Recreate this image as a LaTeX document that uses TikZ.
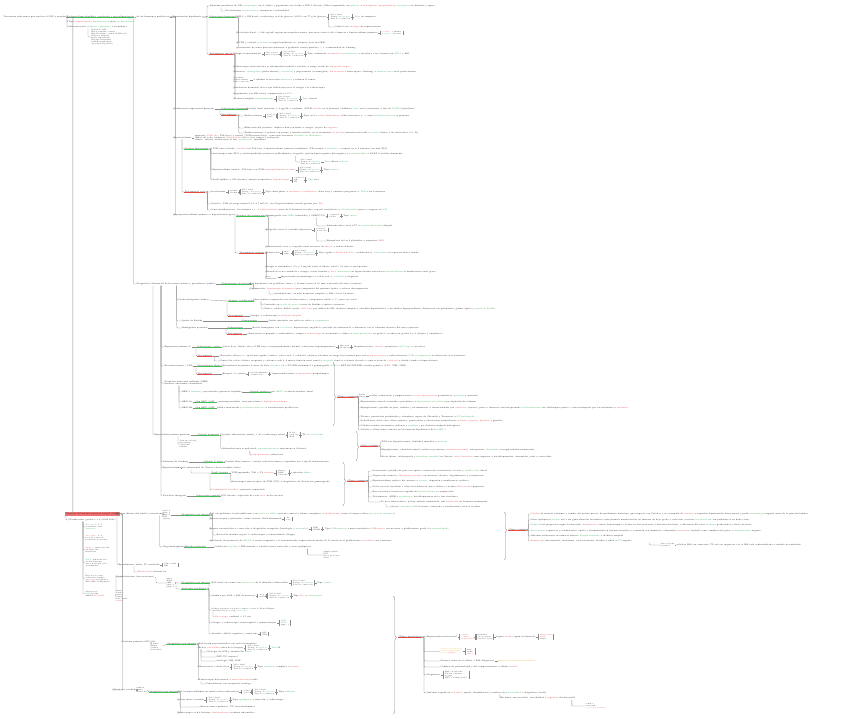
\documentclass[tikz,border=0pt]{standalone}
\usepackage{fontspec}
\newfontfamily\symfont{DejaVu Sans}
\usetikzlibrary{positioning,decorations.pathreplacing}

\definecolor{lncol}{HTML}{8A8A8A}
\definecolor{hgrn}{HTML}{3CC453}
\definecolor{hred}{HTML}{E8473F}
\definecolor{boxred}{HTML}{F07070}
\definecolor{cred}{HTML}{E53935}
\definecolor{cgrn}{HTML}{2FA84F}
\definecolor{cylw}{HTML}{E6AE1E}

\newcommand{\tred}[1]{\textcolor{cred}{#1}}
\newcommand{\tgrn}[1]{\textcolor{cgrn}{#1}}
\newcommand{\tylw}[1]{\textcolor{cylw}{#1}}
\newcommand{\tto}{{\symfont →}}
\newcommand{\tge}{{\symfont ≥}}
\newcommand{\tle}{{\symfont ≤}}

\tikzset{
  txt/.style={font=\fontsize{2.0}{2.4}\selectfont, anchor=west, inner sep=0.4pt, text=black!92},
  stk/.style={txt, font=\fontsize{1.7}{2.0}\selectfont, align=left},
  gh/.style={txt, fill=white, path picture={\fill[hgrn] (path picture bounding box.south west) rectangle ([yshift=1.5pt]path picture bounding box.south east);}},
  rh/.style={txt, fill=white, path picture={\fill[hred] (path picture bounding box.south west) rectangle ([yshift=1.5pt]path picture bounding box.south east);}},
  rbox/.style={txt, fill=boxred, inner sep=0.9pt},
  ln/.style={draw=lncol, line width=0.3pt, rounded corners=0.8pt},
  brc/.style={draw=lncol, line width=0.35pt, decorate},
}

% sub-lista con corchete
\newcommand{\stack}[3]{%
  \node[stk, right=3.5pt of #2] (#1) {#3};
  \draw[ln] (#2.east) -- ([xshift=-1.5pt]#1.west);
  \draw[ln] ([xshift=-1.5pt]#1.north west) -- ([xshift=-1.5pt]#1.south west);
  \draw[ln] ([xshift=1pt]#1.north east) -- ([xshift=1pt]#1.south east);}
\newcommand{\cont}[3]{%
  \node[txt, right=3pt of #2] (#1) {#3};
  \draw[ln] (#2.east) -- (#1.west);}
\newcommand{\trio}[3]{%
  \stack{#1}{#2}{Valor basal\\Tiempo de \tgrn{latencia}\\Tasa de conducción}%
  \cont{#1x}{#1}{#3}}

\begin{document}
\begin{tikzpicture}[x=1bp, y=-1bp]
\useasboundingbox (0,0) rectangle (848,719);

% ---------- raíz y eje
\node[txt] (root) at (3,17) {Trastornos endocrinos que afectan al SNC y neoplasias};
\node[gh] (eje) at (66,17) {Eje hipotálamo-hipófisis: regulación y retroalimentación};
\node[txt] (ejeb) at (136,17) {de las hormonas periféricas};
\draw[ln] (root.east) -- (eje.west);
\draw[ln] (eje.east) -- (ejeb.west);
\node[txt] (tipo) at (68,22) {Tipo: \tred{hiperfunción}, \tgrn{hipofunción} o masa \tgrn{no funcionante}};
\node[txt] (dif) at (68,27) {Diferenciación: \tgrn{primaria (glándula)} o secundaria};
\node[stk] (difl) at (91,37) {Déficit de GH\\Hipogonadismo central\\Hipotiroidismo central (TSH baja)\\Diabetes insípida\\Insuf. suprarrenal\\Hiperprolactinemia\\Panhipopituitarismo\\Apoplejía hipofisaria};
\draw[ln] ([xshift=1pt]eje.south west) |- (tipo.west);
\draw[ln] ([xshift=1pt]eje.south west) |- (dif.west);
\draw[ln] ([xshift=20pt]dif.south west) |- (difl.west);

% ---------- hiperfunción
\node[txt] (hiper) at (172,17) {Hiperfunción hipofisaria};
\draw[ln] (ejeb.east) -- (hiper.west);
\node[txt] (acro) at (209,6) {Adenoma productor de GH: \tgrn{acromegalia} en el adulto y gigantismo en el niño \tto{} IGF-1 elevado, GH no suprimible con \tgrn{glucosa} \tto{} \tred{macroglosia, prognatismo} y \tgrn{artropatía} con diabetes y apnea};
\node[txt] (prl) at (225,11) {Prolactinoma \tto{} \tgrn{galactorrea}, amenorrea e infertilidad};
\draw[ln] ([xshift=12pt]acro.south west) |- (prl.west);
\node[gh] (ghA) at (209,17) {Laboratorio hormonal};
\node[rh] (rhA) at (209,54) {Tratamiento inicial};
\draw[ln] (hiper.east) -- ++(5,0) |- (acro.west);
\draw[ln] (hiper.east) -- ++(5,0) |- (ghA.west);
\draw[ln] (hiper.east) -- ++(5,0) |- (rhA.west);

\node[txt] (la1) at (236,17) {IGF-1 y GH basal \tto{} sobrecarga oral de glucosa (SOG) con 75 g de glucosa};
\trio{la1t}{la1}{\tgrn{Tipo} de respuesta};
\node[txt] (la2) at (334,27) {Control con \tred{análogos} de somatostatina};
\draw[ln] ([xshift=2pt]la1.south east) |- (la2.west);
\node[txt] (la3) at (236,33) {Prolactina basal: > 200 ng/mL sugiere macroprolactinoma; descartar efecto tallo, fármacos e hipotiroidismo primario};
\stack{la3s}{la3}{\tred{positivo}: confirma\\\tgrn{negativo}: descarta};
\node[txt] (la4) at (236,43) {ACTH y cortisol \tgrn{nocturno} \tto{} origen hipofisario vs. ectópico (test de CRH)};
\node[txt] (la5) at (236,48) {Cateterismo de senos petrosos inferiores \tto{} gradiente centro/periferia \tred{> 2} \tto{} enfermedad de Cushing};
\foreach \n in {la1,la3,la4,la5} \draw[ln] (ghA.east) -- ++(2,0) |- (\n.west);

\node[txt] (ta1) at (233,54) {Cirugía transesfenoidal};
\stack{ta1s}{ta1}{endoscópica\\microscópica};
\trio{ta1t}{ta1s}{Tipo combinado \tto{} \tred{remisión} o \tgrn{persistencia} \tto{} reevaluar a los 3 meses con \tgrn{IGF-1} y RM};
\node[txt] (ta2) at (233,67) {Radioterapia estereotáctica si enfermedad residual o recidiva \tto{} riesgo tardío de \tred{hipopituitarismo}};
\node[txt] (ta3) at (233,72) {Fármacos: \tgrn{cabergolina} (prolactinoma), \tgrn{octreótido} y pegvisomant (acromegalia), \tred{ketoconazol} o metirapona (Cushing) \tto{} \tgrn{primera línea} en el prolactinoma};
\node[stk] (ta4) at (233,80) {Dopamina\\Somatostatina\\Glucocorticoide};
\cont{ta4b}{ta4}{\tto{} inhiben la secreción \tgrn{hormonal} y reducen el tumor};
\node[txt] (ta5) at (233,88) {Sustitución hormonal de los ejes deficitarios tras la cirugía o la radioterapia};
\node[txt] (ta6) at (233,94) {Seguimiento con RM anual, campimetría y \tgrn{IGF-1}};
\node[txt] (ta7) at (233,99) {Diabetes insípida \tto{} \tgrn{desmopresina}};
\trio{ta7t}{ta7}{\tgrn{Tipo} central};
\foreach \n in {ta1,ta2,ta3,ta4,ta5,ta6,ta7} \draw[ln] (rhA.east) -- ++(2,0) |- (\n.west);

% ---------- suprarrenal
\node[txt] (supra) at (173,109) {Insuficiencia suprarrenal primaria};
\node[gh] (ghB) at (221,109) {Laboratorio hormonal};
\node[txt] (sb0) at (246,109) {Cortisol basal matutino < 3 µg/dL \tto{} confirma; ACTH \tred{elevada} en la primaria (Addison), \tgrn{baja} en la secundaria \tto{} test de \tgrn{ACTH} (Synacthen)};
\draw[ln] (supra.east) -- (ghB.west);
\draw[ln] (ghB.east) -- (sb0.west);
\node[rh] (rhB) at (221,115) {Tratamiento};
\draw[ln] ([xshift=-1pt]ghB.south west) |- (rhB.west);
\node[txt] (tb1) at (244,116) {Hidrocortisona};
\stack{tb1s}{tb1}{dosis de\\estrés};
\trio{tb1t}{tb1s}{Tipo oral \tto{} \tred{crisis addisoniana}: hidrocortisona i.v. + suero \tto{} \tgrn{fludrocortisona} si primaria};
\node[txt] (tb2) at (244,128) {Educación del paciente: duplicar dosis en fiebre o cirugía, tarjeta de \tred{urgencia}};
\node[txt] (tb3) at (244,133) {Fludrocortisona \tto{} ajustar con renina y tensión arterial; en la secundaria \tred{no precisa} mineralocorticoide \tto{} \tgrn{control} clínico y de electrolitos (\tgrn{Na}, K)};
\foreach \n in {tb1,tb2,tb3} \draw[ln] (rhB.east) -- ++(2,0) |- (\n.west);

% ---------- hipotiroidismo
\node[txt] (hipot) at (173,138) {Hipotiroidismo};
\node[txt, align=left, right=2.5pt of hipot] (hipotb) {primario (\tred{TSH alta}, T4L baja) o central (TSH normal/baja), causa más frecuente \tgrn{tiroiditis de Hashimoto}\\déficit de yodo, fármacos (\tred{amiodarona}, litio), tras cirugía o radioyodo\\clínica: astenia, intolerancia al frío, \tgrn{bradicardia}, mixedema};
\draw[ln] (hipot.east) -- (hipotb.west);
\node[gh] (ghC) at (184,149) {Pruebas funcionales};
\node[txt] (tc1) at (212,149) {TSH como cribado: \tred{elevada} con T4L baja \tto{} hipotiroidismo primario manifiesto; T4L normal \tto{} \tgrn{subclínico} \tto{} repetir en 6--8 semanas con anti-TPO};
\node[txt] (tc2) at (212,154) {Anticuerpos anti-TPO y antitiroglobulina positivos en Hashimoto; ecografía: patrón hipoecogénico heterogéneo y \tgrn{pseudonodular} \tto{} PAAF si nódulo dominante};
\node[stk] (tc2s) at (300,162) {Valor basal\\Tiempo de \tgrn{latencia}\\Tasa de conducción};
\draw[ln] ([xshift=84pt]tc2.south west) |- (tc2s.west);
\cont{tc2x}{tc2s}{\tgrn{Tipo} difuso \tto{} \tgrn{bocio}};
\node[txt] (tc3) at (212,170) {Hipotiroidismo central: T4L baja con TSH \tred{inapropiadamente normal}};
\trio{tc3t}{tc3}{Tipo \tgrn{central}};
\node[txt] (tc4) at (212,180) {Perfil lipídico y CK elevados, anemia normocítica, \tred{hiponatremia}};
\stack{tc4s}{tc4}{colesterol\\CK\\Hb};
\cont{tc4x}{tc4s}{\tgrn{Tipo} leve};
\foreach \n in {tc1,tc2,tc3,tc4} \draw[ln] (ghC.east) -- ++(2,0) |- (\n.west);
\node[rh] (rhC) at (184,192) {Tratamiento oral};
\draw[ln] ([xshift=9pt]hipot.south west) |- (ghC.west);
\draw[ln] ([xshift=9pt]hipot.south west) |- (rhC.west);
\node[txt] (td1) at (210,192) {Levotiroxina};
\stack{td1s}{td1}{ayunas\\30 min};
\trio{td1t}{td1s}{Tipo dosis plena \tto{} \tred{ancianos y cardiópatas}: dosis baja y aumento progresivo \tto{} \tgrn{TSH} a las 6 semanas};
\node[txt] (td2) at (210,204) {Objetivo: TSH en rango normal (0,5--2,5 mU/L); en el hipotiroidismo central guiarse por \tred{T4L}};
\node[txt] (td3) at (210,210) {Coma mixedematoso: levotiroxina i.v. + \tred{hidrocortisona} antes de la hormona tiroidea, soporte ventilatorio y \tgrn{calentamiento} pasivo \tto{} ingreso en \tgrn{UCI}};
\foreach \n in {td1,td2,td3} \draw[ln] (rhC.east) -- ++(2,0) |- (\n.west);

% ---------- hiperparatiroidismo
\node[txt] (hpara) at (173,215) {Hiperparatiroidismo primario e hipercalcemia grave};
\node[gh] (ghD) at (236,216) {Pruebas de localización};
\draw[ln] (hpara.east) -- (ghD.west);
\node[txt] (te1) at (265,216) {Gammagrafía con \tgrn{MIBI} (sestamibi) y SPECT-TC};
\stack{te1s}{te1}{captación\\tardía};
\cont{te1x}{te1s}{Tipo \tgrn{único}};
\node[txt] (te2) at (326,226) {Adenoma único en el 85\,\% \tto{} \tgrn{paratiroidectomía} dirigida};
\draw[ln] ([xshift=52pt]te1.south west) |- (te2.west);
\node[txt] (te3) at (265,230) {Ecografía cervical \tto{} nódulo hipoecoico};
\stack{te3s}{te3}{posterior\\al tiroides};
\node[txt] (te4) at (326,241) {Hiperplasia de las 4 glándulas \tto{} sospechar \tred{MEN}};
\draw[ln] ([xshift=52pt]te3.south west) |- (te4.west);
\node[txt] (te5) at (265,247) {Densitometría ósea y ecografía renal en busca de \tred{litiasis} y nefrocalcinosis};
\foreach \n in {te1,te3,te5} \draw[ln] (ghD.east) -- ++(3,0) |- (\n.west);
\node[rh] (rhD) at (239,253) {Tratamiento urgente};
\draw[ln] ([xshift=-1pt]ghD.south west) |- (rhD.west);
\node[txt] (tf1) at (265,253) {Hidratación};
\stack{tf1s}{tf1}{suero\\salino};
\trio{tf1t}{tf1s}{Tipo agudo \tto{} \tred{bifosfonatos} i.v. (zoledronato), \tgrn{calcitonina} si se precisa efecto rápido};
\node[txt] (tf2) at (265,267) {Cirugía si sintomático, Ca > 1 mg/dL sobre el límite, edad < 50 años u osteoporosis};
\node[txt] (tf3) at (265,272) {Cinacalcet si no candidato a cirugía; evitar tiazidas y \tred{litio}; \tgrn{denosumab} en hipercalcemia refractaria \tto{} \tgrn{hemodiálisis} si insuficiencia renal grave};
\node[stk] (tf4) at (265,277.5) {Hueso\\hambriento};
\cont{tf4x}{tf4}{hipocalcemia posquirúrgica \tto{} calcio oral + \tgrn{calcitriol} y magnesio};
\foreach \n in {tf1,tf2,tf3,tf4} \draw[ln] (rhD.east) -- ++(2,0) |- (\n.west);
\foreach \n in {hiper,supra,hipot,hpara} \draw[ln] (ejeb.east) -- ++(6,0) |- (\n.west);

% ---------- diagnóstico diferencial
\node[txt] (dd) at (136,284) {Diagnóstico diferencial de las masas selares y paraselares (adulto)};
\draw[ln] ([xshift=-1pt]eje.south east) |- (dd.west);
\node[gh] (ghE) at (221,284) {Neuroimagen de elección};
\draw[ln] (dd.east) -- (ghE.west);
\node[txt] (tg1) at (249,284) {RM hipofisaria con gadolinio: micro < 10 mm, macro \tge{} 10 mm \tto{} invasión del seno cavernoso};
\node[txt] (tg2) at (249,289) {Campimetría: \tred{hemianopsia bitemporal} por compresión del quiasma óptico \tto{} valorar descompresión};
\node[txt] (tg3) at (274,294) {Incidentaloma: estudio hormonal completo y RM a los 6--12 meses};
\draw[ln] (ghE.east) -- (tg1.west);
\draw[ln] (ghE.east) -- ++(2,0) |- (tg2.west);
\draw[ln] ([xshift=20pt]tg2.south west) |- (tg3.west);

\node[txt] (cran) at (178,300) {Craneofaringioma (niños)};
\node[gh] (ghF) at (228,301) {Imagen: calcificación};
\draw[ln] (cran.east) -- (ghF.west);
\node[txt] (th1) at (253,300) {Masa quística supraselar con calcificaciones y componente sólido \tto{} \tgrn{TC} para ver calcio};
\node[txt] (th2) at (263,304.5) {Contenido en \tgrn{aceite de motor}, restos de Rathke y epitelio escamoso};
\node[txt] (th3) at (263,309) {Clínica: cefalea, déficit visual, \tred{talla baja} por déficit de GH, diabetes insípida y obesidad hipotalámica \tto{} en adultos hipogonadismo; diferencial con germinoma, glioma óptico y \tgrn{quiste de Rathke}};
\draw[ln] (ghF.east) -- (th1.west);
\draw[ln] ([xshift=8pt]th1.south west) |- (th2.west);
\draw[ln] ([xshift=8pt]th1.south west) |- (th3.west);
\node[rh] (rhF) at (228,316) {Tratamiento};
\draw[ln] ([xshift=-1pt]ghF.south west) |- (rhF.west);
\node[txt] (ti1) at (250,316) {Cirugía + radioterapia \tto{} \tred{diabetes insípida}};
\draw[ln] (rhF.east) -- (ti1.west);
\node[txt] (rath) at (181,321) {Quiste de Rathke};
\node[gh] (ghG) at (241,321) {Neuroimagen};
\node[txt] (tj0) at (268,321) {Quiste intraselar sin realce ni calcio \tto{} \tgrn{seguimiento}};
\draw[ln] (rath.east) -- (ghG.west);
\draw[ln] (ghG.east) -- (tj0.west);
\node[txt] (meni) at (181,328) {Meningioma paraselar};
\node[gh] (ghH) at (227,328) {Neuroimagen};
\node[txt] (tj1) at (252,328) {Realce homogéneo con \tgrn{cola dural}, hiperostosis, engloba la carótida sin estenosarla \tto{} diferencia con el adenoma invasivo del seno cavernoso};
\draw[ln] (meni.east) -- (ghH.west);
\draw[ln] (ghH.east) -- (tj1.west);
\node[rh] (rhH) at (227,334) {Tratamiento};
\node[txt] (tj2) at (247,334) {Observación si pequeño y asintomático; cirugía o \tred{radiocirugía} si crecimiento o clínica \tto{} \tgrn{buen pronóstico} en grado 1, recidiva en grados 2 y 3 (atípico y anaplásico)};
\draw[ln] ([xshift=-1pt]ghH.south west) |- (rhH.west);
\draw[ln] (rhH.east) -- (tj2.west);
\foreach \n in {cran,rath,meni} \draw[ln] ([xshift=41pt]dd.south west) |- (\n.west);

% ---------- columna x = 161
\node[txt] (hipop) at (164,347) {Hipoparatiroidismo 2º};
\node[gh] (ghI) at (197,347) {Laboratorio: calcio};
\node[txt] (tk0) at (222,347) {Calcio bajo, fósforo alto y PTH baja o inapropiadamente normal \tto{} descartar hipomagnesemia};
\stack{tk0s}{tk0}{Chvostek\\Trousseau};
\cont{tk0x}{tk0s}{Manifestaciones: \tred{tetania}, parestesias, \tgrn{QT largo} y cataratas};
\draw[ln] (hipop.east) -- (ghI.west);
\draw[ln] (ghI.east) -- (tk0.west);
\node[rh] (rhI) at (197,356) {Tratamiento};
\node[txt] (tk1) at (219,356) {Gluconato cálcico i.v. en tetania aguda; crónico: calcio oral + calcitriol, objetivo calcemia en rango bajo-normal para evitar \tred{hipercalciuria} y nefrocalcinosis; \tgrn{PTH recombinante} si refractario al tratamiento};
\node[txt] (tk2) at (219,361) {Control de calcio, fósforo, magnesio y calciuria cada 3--6 meses; función renal anual y \tgrn{ecografía} renal si calciuria elevada \tto{} ajustar dosis de \tred{calcitriol} y añadir tiazida si hipercalciuria};
\draw[ln] ([xshift=-1pt]ghI.south west) |- (rhI.west);
\draw[ln] (rhI.east) -- (tk1.west);
\draw[ln] (rhI.east) -- ++(1.5,0) |- (tk2.west);

\node[txt] (feo) at (164,366) {Feocromocitoma / PGL};
\node[gh] (ghJ) at (197,366) {Metanefrinas libres};
\node[txt] (tl1) at (221,366) {Metanefrinas en plasma u orina de 24 h \tgrn{elevadas} ×3 \tto{} TC/RM abdominal \tto{} gammagrafía \tgrn{MIBG} o PET-DOTATATE; estudio genético (\tred{RET}, VHL, SDH)};
\draw[ln] (feo.east) -- (ghJ.west);
\draw[ln] (ghJ.east) -- (tl1.west);
\node[rh] (rhJ) at (197,374) {Tratamiento};
\node[txt] (tm1) at (222,374) {Bloqueo \tgrn{alfa} previo};
\stack{tm1s}{tm1}{fenoxibenzamina\\después beta};
\cont{tm1x}{tm1s}{Suprarrenalectomía \tto{} \tred{hipotensión} posquirúrgica};
\draw[ln] ([xshift=-1pt]ghJ.south west) |- (rhJ.west);
\draw[ln] (rhJ.east) -- (tm1.west);

\node[txt, align=left] (men) at (164,383) {Neoplasia endocrina múltiple (MEN)\\herencia autosómica dominante};
\node[txt] (men1) at (181,392) {MEN 1 (\tgrn{menina}): paratiroides, páncreas, hipófisis};
\node[gh] (ghK) at (249,392) {Cribado genético};
\node[txt] (tn1) at (270,392) {gen \tgrn{MEN1} \tto{} cribado familiar anual};
\draw[ln] (men1.east) -- (ghK.west);
\draw[ln] (ghK.east) -- (tn1.west);
\node[txt] (men2) at (181,402) {MEN 2A:};
\node[gh] (ghL) at (195,402) {Gen RET: CMT};
\node[txt] (tn2) at (217,402) {carcinoma medular, feocromocitoma e \tred{hiperparatiroidismo}};
\draw[ln] (men2.east) -- (ghL.west);
\draw[ln] (ghL.east) -- (tn2.west);
\node[txt] (men3) at (181,408) {MEN 2B:};
\node[gh] (ghM) at (195,408) {Gen RET: CMT};
\node[txt] (tn3) at (217,408) {hábito marfanoide y \tgrn{neuromas mucosos} \tto{} tiroidectomía profiláctica};
\draw[ln] (men3.east) -- (ghM.west);
\draw[ln] (ghM.east) -- (tn3.west);
\foreach \n in {men1,men2,men3} \draw[ln] ([xshift=15pt]men.south west) |- (\n.west);

% llave 1
\draw[brc, decoration={brace, amplitude=2.5pt, aspect=0.55}] (333,362) -- (333,426);
\node[rh] (rhK) at (337,397) {Clínica común};
\node[stk] (cl1) at (358,396) {Tríada\\clásica};
\cont{cl1x}{cl1}{cefalea, sudoración y palpitaciones \tto{} \tred{crisis hipertensivas} paroxísticas \tto{} \tgrn{palidez} y ansiedad};
\node[txt] (cl2) at (360,402) {Hipertensión arterial sostenida o paroxística \tto{} \tgrn{hipotensión ortostática} por depleción de volumen};
\node[txt] (cl3) at (360,408) {Hiperglucemia, pérdida de peso, temblor y estreñimiento \tto{} desencadenada por \tred{anestesia}, ejercicio, parto o fármacos (metoclopramida, \tgrn{betabloqueantes} sin alfabloqueo previo) \tto{} miocardiopatía por catecolaminas y \tred{arritmias}};
\node[txt] (cl4) at (360,417) {Tetania, parestesias peribucales y calambres; signos de Chvostek y Trousseau \tto{} \tgrn{QT prolongado}};
\node[txt] (cl5) at (360,421) {Nefrolitiasis, dolor óseo, úlcera péptica, pancreatitis y alteraciones psiquiátricas \tto{} \tred{huesos, piedras, quejidos} y gemidos};
\node[txt] (cl6) at (360,425.5) {Cálculos renales recurrentes, poliuria y \tgrn{polidipsia} por diabetes insípida nefrogénica};
\node[txt] (cl7) at (360,430) {Cefalea y alteraciones visuales en los tumores hipofisarios de la \tgrn{MEN 1}};
\foreach \n in {cl1,cl2,cl3,cl4,cl5,cl6,cl7} \draw[ln] (rhK.east) -- ++(3,0) |- (\n.west);

% ---------- columna x = 153
\node[txt] (aldo) at (154,435) {Hiperaldosteronismo primario};
\node[stk] (aldol) at (179,444) {adenoma (Conn)\\hiperplasia\\carcinoma\\familiar};
\draw[ln] ([xshift=24pt]aldo.south west) |- (aldol.west);
\node[gh] (ghN) at (197,435) {Cribado hormonal};
\node[txt] (to1) at (220,435) {Cociente aldosterona/renina > 30 \tto{} sobrecarga salina};
\stack{to1s}{to1}{K bajo\\alcalosis\\HTA};
\cont{to1x}{to1s}{TC \tto{} \tgrn{cateterismo}};
\draw[ln] (aldo.east) -- (ghN.west);
\draw[ln] (ghN.east) -- (to1.west);
\node[txt] (to2) at (222,449) {Adrenalectomía si unilateral; \tgrn{espironolactona} o eplerenona si bilateral};
\node[txt] (to3) at (252,455) {\tred{hipopotasemia} refractaria};
\draw[ln] ([xshift=1pt]ghN.south east) |- (to2.west);
\draw[ln] ([xshift=28pt]to2.south west) |- (to3.west);

% llave 2
\draw[brc, decoration={brace, amplitude=2.5pt, aspect=0.53}] (356,431) -- (356,461);
\node[rh] (rhL) at (360,446) {Clínica común};
\node[txt] (cm1) at (381,442) {HTA con hipopotasemia, debilidad muscular y \tgrn{poliuria}};
\node[txt] (cm2) at (381,450) {Hiperglucemia, obesidad central, estrías rojo-vinosas, \tred{miopatía proximal}, osteoporosis, \tgrn{hirsutismo} e irregularidades menstruales};
\node[txt] (cm3) at (381,457) {Bocio difuso, oftalmopatía y \tgrn{mixedema pretibial} en Graves; \tred{crisis tirotóxica} como urgencia \tto{} betabloqueantes, tionamidas, yodo y corticoides};
\foreach \n in {cm1,cm2,cm3} \draw[ln] (rhL.east) -- ++(2,0) |- (\n.west);

% ---------- Cushing, tiroides
\node[txt] (cush) at (162,462) {Síndrome de Cushing};
\node[gh] (ghO) at (203,462) {Cribado 1ª línea};
\node[txt] (tp1) at (224,462) {Cortisol libre urinario, cortisol salival nocturno y supresión con 1 mg de dexametasona};
\draw[ln] (cush.east) -- (ghO.west);
\draw[ln] (ghO.east) -- (tp1.west);
\node[txt] (tiro) at (162,468) {Hipertiroidismo};
\node[txt] (tiro2) at (181,468) {por enfermedad de Graves o bocio nodular tóxico};
\draw[ln] (tiro.east) -- (tiro2.west);
\node[gh] (ghP) at (211,473) {Perfil tiroideo};
\draw[ln] ([xshift=10pt]tiro2.south west) |- (ghP.west);
\node[txt] (tq1) at (231,473) {TSH suprimida, T4L y T3 \tred{elevadas}};
\stack{tq1s}{tq1}{Graves\\BMN\\adenoma};
\cont{tq1x}{tq1s}{captación \tgrn{difusa}};
\node[txt] (tq2) at (231,482) {Anticuerpos anti-receptor de TSH (TSI) \tto{} diagnóstico de Graves sin gammagrafía};
\node[txt] (tq3) at (211,490) {\tred{Gammagrafía tiroidea}: captación aumentada};
\draw[ln] (ghP.east) -- (tq1.west);
\draw[ln] (ghP.east) -- ++(2,0) |- (tq2.west);
\draw[ln] ([xshift=-1pt]ghP.south west) |- (tq3.west);
\node[txt] (tsub) at (162,496) {Tiroiditis subaguda};
\node[gh] (ghQ) at (196,496) {Laboratorio general};
\node[txt] (tr1) at (220,496) {VSG elevada, captación de yodo \tred{baja}, dolor cervical};
\draw[ln] (tsub.east) -- (ghQ.west);
\draw[ln] (ghQ.east) -- (tr1.west);
\foreach \n in {hipop,feo,men,cush,tiro,tsub} \draw[ln] ([xshift=25pt]dd.south west) |- (\n.west);
\draw[ln] ([xshift=17pt]dd.south west) |- (aldo.west);

% llave 3
\draw[brc, decoration={brace, amplitude=2.5pt, aspect=0.44}] (343,462) -- (343,506);
\node[rh] (rhM) at (347,481) {Clínica común};
\node[txt] (cn1) at (372,471) {Nerviosismo, pérdida de peso con apetito conservado, intolerancia al calor y \tgrn{temblor fino} distal};
\node[txt] (cn2) at (372,476) {Taquicardia sinusal y \tred{fibrilación auricular} en ancianos, diarrea, oligomenorrea y osteoporosis};
\node[txt] (cn3) at (372,481) {Hipertiroidismo apático del anciano \tto{} \tgrn{astenia}, depresión e insuficiencia cardiaca};
\node[txt] (cn4) at (372,487) {Dolor cervical irradiado a oídos tras infección vírica, fiebre y tiroides \tred{doloroso} a la palpación};
\node[txt] (cn5) at (372,492) {Fase tirotóxica transitoria seguida de \tgrn{hipotiroidismo} y recuperación};
\node[txt] (cn6) at (372,497) {Tratamiento: AINE o \tgrn{prednisona}; betabloqueantes en la fase tirotóxica};
\node[txt] (cn7) at (380,502) {No usar antitiroideos: no hay síntesis aumentada, sino \tred{liberación} de hormona preformada};
\node[txt] (cn8) at (390,507) {Graves: \tgrn{metimazol} 12--18 meses, radioyodo o tiroidectomía total si recidiva};
\foreach \n in {cn1,cn2,cn3,cn4,cn5,cn6,cn7} \draw[ln] (rhM.east) -- ++(3,0) |- (\n.west);
\draw[ln] ([xshift=6pt]cn7.south west) |- (cn8.west);

% ---------- tumores del SNC
\node[rbox] (tsnc) at (65,514) {Tumores del sistema nervioso central (OMS)};
\draw[ln] (root.east) -- ++(3,0) |- (tsnc.west);
\node[txt] (clas) at (68,520) {Clasificación: grados 1 a 4 (OMS 2021)};
\draw[ln] ([xshift=1pt]tsnc.south west) |- (clas.west);
\node[stk] (ls1) at (85,527) {\tgrn{Bajo grado}: 1--2\\crecimiento lento\\\tgrn{infiltrante}};
\node[stk] (ls2) at (85,538) {\tred{Alto grado}: 3--4\\necrosis y mitosis\\proliferación vascular};
\node[stk] (ls3) at (85,550) {\tred{Adultos}: supratentorial\\glioblastoma\\metástasis};
\node[stk] (ls4) at (85,563) {\tgrn{Niños}: infratentorial\\meduloblastoma\\astrocitoma pilocítico\\ependimoma};
\node[stk] (ls5) at (85,579) {Factores de riesgo:\\radiación ionizante\\\tred{síndromes} hereditarios\\NF1, NF2, Li-Fraumeni};
\node[stk] (ls6) at (85,594) {Marcadores:\\\tgrn{IDH}, 1p/19q\\MGMT, \tred{H3 K27M}};
\foreach \n in {ls1,ls2,ls3,ls4,ls5,ls6} \draw[ln] ([xshift=15pt]clas.south west) |- (\n.west);

\node[txt] (glio) at (115,514) {Gliomas difusos del adulto (astrocitoma)};
\draw[ln] (tsnc.east) -- (glio.west);
\node[stk] (gliol) at (162,515) {grado 2\\grado 3\\grado 4\\IDH\\1p/19q};
\node[gh] (ghR) at (181,515) {Diagnóstico por imagen};
\draw[ln] (glio.east) -- (gliol.west);
\draw[ln] (gliol.east) -- (ghR.west);
\node[txt] (tu1) at (209,514) {RM con gadolinio: lesión infiltrante con \tgrn{realce en anillo}, necrosis central y edema vasogénico \tto{} \tred{glioblastoma}; cruza el cuerpo calloso (\tgrn{en alas de mariposa})};
\node[txt] (tu2) at (209,519) {Espectroscopia y perfusión: colina elevada, NAA disminuido};
\stack{tu2s}{tu2}{alto\\bajo};
\node[txt] (tu3) at (209,529) {Biopsia estereotáctica o resección \tto{} diagnóstico integrado (histología + \tgrn{molecular})};
\stack{tu3s}{tu3}{IDH\\MGMT};
\cont{tu3x}{tu3s}{Tipo \tgrn{IDH-mutado} \tto{} mejor pronóstico; \tred{IDH-nativo} con necrosis \tto{} glioblastoma grado 4 \tto{} \tgrn{temozolomida}};
\node[txt] (tu4) at (216,535) {Resección máxima segura + radioterapia y temozolomida (Stupp)};
\node[txt] (tu5) at (209,541) {Metilación del promotor de \tgrn{MGMT} \tto{} mayor respuesta a la temozolomida; supervivencia media de 15 meses en el glioblastoma \tto{} \tred{recidiva} casi constante};
\foreach \n in {tu1,tu2,tu3,tu5} \draw[ln] (ghR.east) -- ++(2,0) |- (\n.west);
\draw[ln] ([xshift=4pt]tu3.south west) |- (tu4.west);

\node[txt] (oligo) at (162,547) {Oligodendroglioma};
\node[gh] (ghS) at (184,547) {Estudio molecular};
\node[txt] (tv1) at (214,547) {Codeleción \tgrn{1p/19q} + IDH mutado \tto{} calcificaciones corticales y crisis epilépticas};
\node[stk] (tv1s) at (323,555) {quimiosensible\\PCV\\mejor pronóstico\\crisis};
\draw[ln] (oligo.east) -- (ghS.west);
\draw[ln] (ghS.east) -- (tv1.west);
\draw[ln] ([xshift=-4pt]tv1.south east) |- (tv1s.west);
\draw[ln] ([xshift=45pt]glio.south west) |- (oligo.west);

\node[txt] (epen) at (118,565) {Ependimoma: niños, IV ventrículo};
\stack{epens}{epen}{hidrocefalia\\RM};
\node[txt] (epen2) at (137,572) {\tred{Hidrocefalia} obstructiva};
\draw[ln] ([xshift=2pt]glio.south west) |- (epen.west);
\draw[ln] ([xshift=16pt]epen.south west) |- (epen2.west);

\node[txt] (medu) at (115,577) {Meduloblastoma (fosa posterior)};
\node[stk] (medul) at (166,583) {niños\\WNT\\SHH\\grupo 3\\grupo 4};
\node[gh] (ghT) at (181,583) {Diagnóstico por imagen};
\node[gh] (ghU) at (181,589) {Anatomía patológica};
\draw[ln] (medu.east) -- ++(1,0) |- (medul.west);
\draw[ln] (medul.east) -- ++(1,0) |- (ghT.west);
\draw[ln] (medul.east) -- ++(1,0) |- (ghU.west);
\node[stk] (medl2) at (115,596) {ataxia\\vómitos\\cefalea\\vermis\\hidrocefalia\\\tred{siembra}};
\draw[ln] ([xshift=1pt]medu.south west) |- (medl2.west);
\node[txt] (tw1) at (211,583) {RM: masa en vermis con \tgrn{restricción} de la difusión e hidrocefalia};
\trio{tw1t}{tw1}{Tipo \tgrn{clásico}};
\node[txt] (tw2) at (211,596) {Siembra por LCR \tto{} RM de neuroeje};
\stack{tw2s}{tw2}{drop\\meta};
\trio{tw2t}{tw2s}{Tipo \tred{M+} \tto{} \tgrn{radioterapia}};
\node[stk] (tw3) at (211,610) {Células pequeñas redondas y azules, rosetas de Homer-Wright\\estratificación por riesgo \tgrn{molecular}};
\node[txt] (tw4) at (214,617) {\tred{Alto riesgo}: residual > 1,5 cm};
\node[txt] (tw5) at (211,623) {Cirugía + radioterapia craneoespinal + quimioterapia};
\stack{tw5s}{tw5}{\tgrn{SHH}\\\tgrn{WNT}\\grupo 3};
\node[txt] (tw6) at (211,634) {Secuelas: déficit cognitivo y endocrino};
\stack{tw6s}{tw6}{GH\\TSH};
\foreach \n in {tw1,tw2,tw3,tw5,tw6} \draw[ln] (ghU.east) -- ++(2,0) |- (\n.west);
\draw[ln] ([xshift=2pt]tw3.south west) |- (tw4.west);

\node[txt] (linf) at (122,642) {Linfoma primario SNC};
\node[stk] (linfl) at (150,646) {VIH\\B difuso\\células\\grandes\\periventric.};
\node[gh] (ghV) at (167,644) {Diagnóstico por imagen};
\draw[ln] (linf.east) -- ++(1,0) |- (linfl.west);
\draw[ln] (linfl.east) -- (ghV.west);
\node[txt] (tx1) at (198,644) {RM: lesión periventricular con realce homogéneo};
\node[txt] (tx2) at (198,648) {Evitar \tred{corticoides} antes de la biopsia};
\trio{tx2t}{tx2}{\tgrn{Tipo} B};
\node[txt] (tx3) at (206,652) {Citología de LCR y examen del \tgrn{vítreo}};
\node[txt] (tx4) at (216,657) {PET-TC corporal};
\node[txt] (tx5) at (216,661) {Serología VIH, LDH};
\node[txt] (tx6) at (198,667) {Metotrexato a dosis altas};
\trio{tx6t}{tx6}{Tipo \tgrn{respuesta} completa \tto{} \tred{recaída}};
\node[txt] (tx7) at (198,680) {Radioterapia holocraneal \tto{} \tred{neurotoxicidad} tardía};
\node[txt] (tx8) at (205,684) {Consolidación con trasplante autólogo};
\foreach \n in {tx1,tx2,tx6,tx7} \draw[ln] (ghV.east) -- ++(2,0) |- (\n.west);
\foreach \n in {tx3,tx4,tx5} \draw[ln] ([xshift=3pt]tx2.south west) |- (\n.west);
\draw[ln] ([xshift=3pt]tx7.south west) |- (tx8.west);

\node[txt] (meta) at (112,690) {Metástasis cerebrales};
\node[stk] (metal) at (136,690) {pulmón\\mama\\melanoma};
\node[gh] (ghW) at (149,692) {Diagnóstico por imagen};
\draw[ln] (meta.east) -- (metal.west);
\draw[ln] (metal.east) -- (ghW.west);
\node[txt] (ty1) at (177,692) {RM: lesiones múltiples en unión córtico-subcortical};
\stack{ty1s}{ty1}{edema\\realce};
\trio{ty1t}{ty1s}{Tipo \tgrn{múltiple}};
\node[txt] (ty2) at (177,700) {Lesión única accesible};
\trio{ty2t}{ty2}{Tipo \tgrn{quirúrgico} \tto{} resección + radiocirugía};
\node[txt] (ty3) at (200,707) {Buscar tumor primario: TC toracoabdominal};
\node[txt] (ty4) at (177,713) {Radiocirugía si \tle{} 4 lesiones; \tred{dexametasona} si edema sintomático};
\foreach \n in {ty1,ty2,ty4} \draw[ln] (ghW.east) -- ++(2,0) |- (\n.west);
\draw[ln] ([xshift=3pt]ty2.south west) |- (ty3.west);
\foreach \n in {medu,linf,meta} \draw[ln] (tsnc.east) -- ++(2,0) |- (\n.west);

% llave 4
\draw[brc, decoration={brace, amplitude=3pt, aspect=0.38}] (504,512) -- (504,560);
\node[rh] (rhO) at (508,530) {Clínica común};
\node[txt] (cp1) at (530,514) {\tred{Cefalea} de reciente comienzo o cambio del patrón previo, de predominio matutino, que empeora con Valsalva y se acompaña de \tred{vómitos} \tto{} sospechar hipertensión intracraneal y pedir \tgrn{neuroimagen} urgente antes de la punción lumbar};
\node[txt] (cp2) at (530,520) {Crisis epilépticas \tgrn{focales} con o sin generalización secundaria como primera manifestación en tumores de bajo grado y corticales \tto{} iniciar \tgrn{levetiracetam}; sin profilaxis si no hubo crisis};
\node[txt] (cp3) at (530,525) {\tgrn{Déficit} focal progresivo según localización: \tred{hemiparesia}, afasia, hemianopsia o ataxia en fosa posterior \tto{} instauración lenta, a diferencia del ictus \tto{} \tgrn{edema} perilesional y efecto de masa};
\node[txt] (cp4) at (530,531) {\tgrn{Alteraciones} cognitivas y conductuales, apatía y desinhibición en lesiones frontales \tto{} confusión con demencia o depresión; \tred{herniación} cerebral como complicación grave \tto{} \tgrn{dexametasona} urgente};
\node[txt] (cp5) at (530,536) {Síntomas endocrinos en tumores selares: \tgrn{hipopituitarismo} y diabetes insípida};
\node[txt] (cp6) at (530,541) {\tred{Hemorragia} intratumoral: melanoma, coriocarcinoma, tiroides y riñón \tto{} \tgrn{TC} urgente};
\node[stk] (cp6s) at (660,545) {ante sospecha\\de tumor};
\node[txt] (cp7) at (676,545) {solicitar RM con contraste; TC solo en urgencias o si la RM está contraindicada \tto{} estudio de extensión};
\foreach \n in {cp1,cp2,cp3,cp4,cp5,cp6} \draw[ln] (rhO.east) -- ++(2,0) |- (\n.west);
\draw[ln] ([xshift=120pt]cp6.south west) |- (cp6s.west);
\draw[ln] (cp6s.east) -- (cp7.west);

% llave 5
\draw[brc, decoration={brace, amplitude=3.5pt, aspect=0.35}] (393,596) -- (393,714);
\node[rh] (rhN) at (398,637) {Clínica neurológica};
\node[txt] (co1) at (426,637) {Hipertensión intracraneal};
\stack{co1s}{co1}{\tred{cefalea}\\\tred{vómitos}\\\tred{papiledema}};
\stack{co1t}{co1s}{matutina\\en escopetazo\\visión borrosa};
\cont{co1x}{co1t}{Signos \tred{focales} según localización};
\stack{co1u}{co1x}{\tred{hemiparesia}\\\tred{afasia}\\ataxia};
\node[stk] (co2) at (440,651.5) {\tylw{crisis focales motoras}\\\tylw{crisis generalizadas}\\\tylw{status} \tred{epiléptico}};
\stack{co2s}{co2}{inicio\\adulto\\\tred{tumor}};
\node[txt] (co3) at (440,661) {Primera crisis en el adulto \tto{} RM obligatoria};
\cont{co3x}{co3}{\tylw{fármaco no inductor enzimático}};
\node[txt] (co4) at (440,667) {Cambios de personalidad y del comportamiento \tto{} lóbulo \tred{frontal}};
\node[txt] (co5) at (426,675) {Diagnóstico};
\stack{co5s}{co5}{RM con gadolinio\\TC sin contraste\\biopsia\\PET con aminoácidos};
\node[txt] (co6) at (426,693) {Síntomas cognitivos \tto{} \tred{frontal}: apatía, desinhibición y cambios de \tgrn{personalidad} \tto{} diagnóstico tardío};
\node[txt] (co7) at (500,698) {En niños: macrocefalia, irritabilidad y \tred{regresión} del desarrollo};
\node[stk] (co8) at (585,706) {vómitos\\estrabismo\\\tred{ojos en sol poniente}};
\foreach \n in {co1,co2,co3,co4,co5,co6} \draw[ln] (rhN.east) -- ++(2,0) |- (\n.west);
\draw[ln] ([xshift=74pt]co6.south west) |- (co7.west);
\draw[ln] ([xshift=-4pt]co7.south east) |- (co8.west);

\end{tikzpicture}
\end{document}
